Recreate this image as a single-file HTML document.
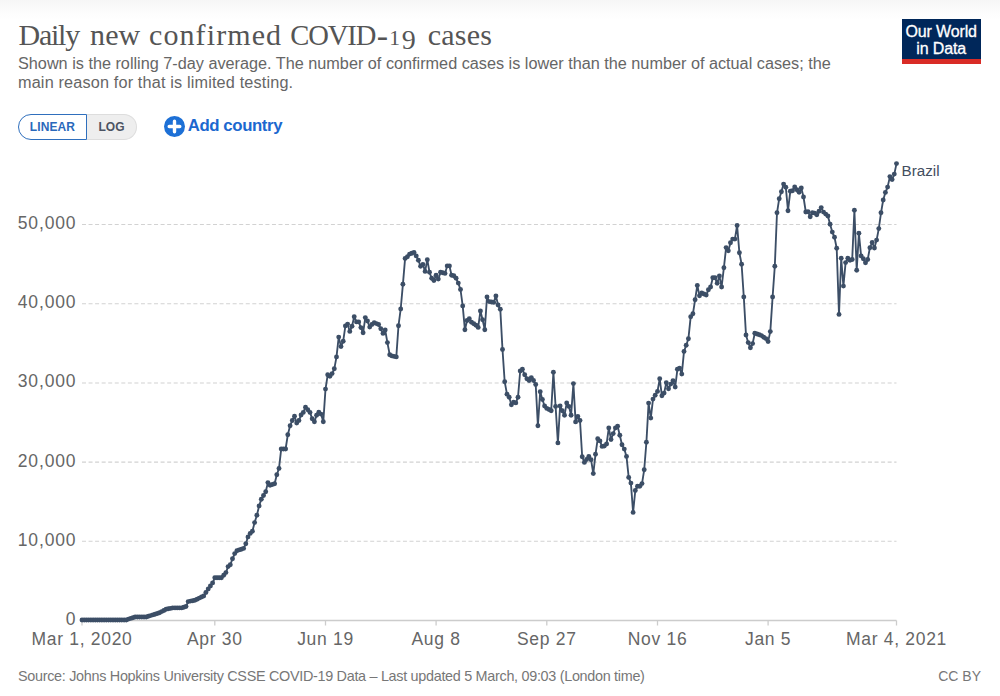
<!DOCTYPE html>
<html lang="en">
<head>
<meta charset="utf-8">
<title>Daily new confirmed COVID-19 cases</title>
<style>
html,body{margin:0;padding:0;background:#fff;}
body{width:1000px;height:696px;position:relative;overflow:hidden;font-family:"Liberation Sans",sans-serif;color:#555;}
.topshade{position:absolute;left:0;top:0;width:1000px;height:20px;background:linear-gradient(#f6f6f6,#fcfcfc 55%,#fff);}
h1{position:absolute;left:0;top:15px;width:600px;height:40px;margin:0;font-family:"Liberation Serif",serif;font-weight:400;font-size:30px;line-height:40px;color:#555;white-space:nowrap;letter-spacing:0.18px;}
.sub{position:absolute;left:18px;top:53.5px;margin:0;font-size:16.24px;line-height:19.2px;color:#666;white-space:nowrap;}
.logo{position:absolute;left:901.6px;top:19px;width:79.2px;height:39.8px;background:#00275a;border-bottom:5px solid #d92b26;color:#fff;text-align:center;font-size:16px;line-height:17.4px;letter-spacing:-0.15px;-webkit-text-stroke:0.3px #fff;}
.logo span{display:block;position:absolute;left:0;width:100%;line-height:18px;}
.logo .l1{top:4.3px;} .logo .l2{top:20.9px;}
.toggle{position:absolute;left:18px;top:114px;height:26px;box-sizing:border-box;display:flex;font-size:12px;font-weight:700;}
.toggle div{box-sizing:border-box;height:26px;line-height:24px;}
.lin{width:69px;border:1.8px solid #2f6fbd;border-radius:13px 0 0 13px;color:#2a69bb;background:#fff;text-align:center;padding-left:0px;letter-spacing:0.1px;}
.log{width:50px;border:1px solid #ddd;border-left:none;border-radius:0 13px 13px 0;color:#4b5362;background:#eee;text-align:center;padding-right:0px;}
.add{position:absolute;left:164px;top:115.2px;height:22px;display:flex;align-items:center;color:#1c68cf;font-weight:700;font-size:16.8px;letter-spacing:-0.4px;white-space:nowrap;}
.add svg{margin-right:2.7px;}
.src{position:absolute;left:18px;top:667px;font-size:14.4px;line-height:18px;color:#777;white-space:nowrap;letter-spacing:-0.3px;}
.cc{position:absolute;right:19px;top:667px;font-size:14px;line-height:18px;color:#777;white-space:nowrap;}
h1 span{position:absolute;top:0;line-height:40px;}
svg.chart{position:absolute;left:0;top:0;}
svg.chart text{font-family:"Liberation Sans",sans-serif;}
</style>
</head>
<body>
<div class="topshade"></div>
<h1><span style="left:18.5px;letter-spacing:-1.25px">Daily</span> <span style="left:90px;letter-spacing:0.15px">new</span> <span style="left:149px;letter-spacing:1.1px">confirmed</span> <span style="left:290.3px;top:0.5px;font-size:28.6px;letter-spacing:-1.1px">COVID</span><span style="left:376.8px;top:1.2px;font-size:34px;letter-spacing:0">-</span><span style="left:389.2px;top:2.7px;font-size:21.5px;">1</span><span style="left:401.7px;top:5.2px;font-size:28px;">9</span> <span style="left:427.8px;letter-spacing:0.18px">cases</span></h1>
<p class="sub">Shown is the rolling 7-day average. The number of confirmed cases is lower than the number of actual cases; the<br><span style="letter-spacing:0.16px">main reason for that is limited testing.</span></p>
<div class="logo"><span class="l1">Our World</span><span class="l2">in Data</span></div>
<div class="toggle"><div class="lin">LINEAR</div><div class="log">LOG</div></div>
<div class="add"><svg width="21" height="21" viewBox="0 0 21 21"><circle cx="10.5" cy="10.5" r="10.5" fill="#1d70d6"/><path d="M10.5 5.2v10.6M5.2 10.5h10.6" stroke="#fff" stroke-width="3.4" stroke-linecap="round"/></svg>Add country</div>
<svg class="chart" width="1000" height="696" viewBox="0 0 1000 696">
<g stroke="#d2d2d2" stroke-width="1.05" stroke-dasharray="4,2.55"><line x1="82" x2="896.5" y1="541.3" y2="541.3"/><line x1="82" x2="896.5" y1="462.1" y2="462.1"/><line x1="82" x2="896.5" y1="382.9" y2="382.9"/><line x1="82" x2="896.5" y1="303.7" y2="303.7"/><line x1="82" x2="896.5" y1="224.4" y2="224.4"/></g>
<line x1="82" x2="896.5" y1="620.5" y2="620.5" stroke="#ccc" stroke-width="1.3"/>
<g stroke="#ccc" stroke-width="1.3"><line x1="82.0" x2="82.0" y1="620.5" y2="625.5"/><line x1="214.8" x2="214.8" y1="620.5" y2="625.5"/><line x1="325.5" x2="325.5" y1="620.5" y2="625.5"/><line x1="436.1" x2="436.1" y1="620.5" y2="625.5"/><line x1="546.8" x2="546.8" y1="620.5" y2="625.5"/><line x1="657.5" x2="657.5" y1="620.5" y2="625.5"/><line x1="768.1" x2="768.1" y1="620.5" y2="625.5"/><line x1="896.5" x2="896.5" y1="620.5" y2="625.5"/></g>
<g font-size="17.5px" fill="#666" letter-spacing="0.85"><text x="76.4" y="625.0" text-anchor="end">0</text><text x="76.4" y="545.8" text-anchor="end">10,000</text><text x="76.4" y="466.6" text-anchor="end">20,000</text><text x="76.4" y="387.3" text-anchor="end">30,000</text><text x="76.4" y="308.1" text-anchor="end">40,000</text><text x="76.4" y="228.9" text-anchor="end">50,000</text></g>
<g font-size="17.5px" fill="#666" letter-spacing="0.7"><text x="82.0" y="645.3" text-anchor="middle">Mar 1, 2020</text><text x="214.8" y="645.3" text-anchor="middle">Apr 30</text><text x="325.5" y="645.3" text-anchor="middle">Jun 19</text><text x="436.1" y="645.3" text-anchor="middle">Aug 8</text><text x="546.8" y="645.3" text-anchor="middle">Sep 27</text><text x="657.5" y="645.3" text-anchor="middle">Nov 16</text><text x="768.1" y="645.3" text-anchor="middle">Jan 5</text><text x="896.5" y="645.3" text-anchor="middle">Mar 4, 2021</text></g>
<polyline fill="none" stroke="#3c4e66" stroke-width="1.85" stroke-linejoin="round" points="82.0,620.0 84.2,620.0 86.4,620.0 88.6,620.0 90.9,620.0 93.1,620.0 95.3,620.0 97.5,620.0 99.7,620.0 101.9,620.0 104.1,620.0 106.3,620.0 108.6,620.0 110.8,620.0 113.0,620.0 115.2,620.0 117.4,620.0 119.6,620.0 121.8,620.0 124.1,620.0 126.3,620.0 128.5,619.1 130.7,618.4 132.9,617.7 135.1,617.0 137.3,617.0 139.5,617.0 141.8,617.0 144.0,617.0 146.2,617.0 148.4,616.3 150.6,615.6 152.8,614.9 155.0,614.2 157.3,613.5 159.5,612.8 161.7,611.6 163.9,610.5 166.1,609.3 168.3,608.8 170.5,608.4 172.7,607.9 175.0,607.9 177.2,607.9 179.4,607.9 181.6,607.9 183.8,607.2 186.0,606.5 188.2,601.6 190.5,601.1 192.7,600.7 194.9,600.2 197.1,599.2 199.3,598.1 201.5,597.0 203.7,596.0 205.9,592.5 208.2,589.0 210.4,586.0 212.6,582.9 214.8,577.8 217.0,577.8 219.2,577.8 221.4,577.8 223.7,575.2 225.9,572.6 228.1,566.6 230.3,564.8 232.5,558.8 234.7,553.6 236.9,550.7 239.1,549.9 241.4,549.2 243.6,548.4 245.8,543.8 248.0,536.9 250.2,533.4 252.4,531.2 254.6,522.6 256.9,515.2 259.1,505.9 261.3,499.3 263.5,495.5 265.7,491.7 267.9,482.6 270.1,485.2 272.3,484.5 274.6,483.8 276.8,474.8 279.0,468.4 281.2,449.0 283.4,449.0 285.6,449.0 287.8,434.8 290.1,425.7 292.3,420.5 294.5,416.2 296.7,423.1 298.9,420.5 301.1,415.0 303.3,412.4 305.5,407.2 307.8,409.8 310.0,412.4 312.2,418.8 314.4,421.7 316.6,415.3 318.8,412.2 321.0,414.1 323.3,421.7 325.5,389.1 327.7,374.8 329.9,376.2 332.1,373.6 334.3,368.8 336.5,356.9 338.7,337.1 341.0,346.6 343.2,341.2 345.4,325.9 347.6,324.1 349.8,331.4 352.0,326.2 354.2,316.7 356.5,321.9 358.7,321.9 360.9,327.6 363.1,332.8 365.3,317.6 367.5,321.0 369.7,327.1 371.9,324.5 374.2,322.8 376.4,323.6 378.6,324.5 380.8,328.8 383.0,333.4 385.2,330.0 387.4,342.6 389.7,354.7 391.9,355.9 394.1,356.4 396.3,356.9 398.5,325.7 400.7,309.0 402.9,284.3 405.1,258.4 407.4,256.7 409.6,254.1 411.8,253.2 414.0,252.4 416.2,255.9 418.4,260.2 420.6,266.2 422.9,264.5 425.1,271.4 427.3,259.7 429.5,272.2 431.7,278.3 433.9,280.5 436.1,275.2 438.3,279.1 440.6,272.2 442.8,272.8 445.0,273.4 447.2,265.9 449.4,265.9 451.6,275.2 453.8,275.7 456.1,278.3 458.3,283.1 460.5,289.5 462.7,305.9 464.9,329.7 467.1,320.5 469.3,318.8 471.5,322.2 473.8,323.7 476.0,325.2 478.2,327.4 480.4,311.0 482.6,319.7 484.8,329.7 487.0,296.9 489.2,301.6 491.5,302.0 493.7,302.4 495.9,295.9 498.1,305.0 500.3,309.3 502.5,349.5 504.7,381.7 507.0,394.3 509.2,397.2 511.4,404.7 513.6,402.1 515.8,402.9 518.0,397.2 520.2,371.0 522.4,369.3 524.7,374.8 526.9,378.8 529.1,380.5 531.3,377.6 533.5,380.5 535.7,384.5 537.9,425.7 540.2,391.7 542.4,399.5 544.6,406.0 546.8,408.4 549.0,409.5 551.2,410.7 553.4,372.2 555.6,406.4 557.9,442.9 560.1,406.0 562.3,410.7 564.5,415.3 566.7,402.9 568.9,406.4 571.1,415.3 573.4,383.6 575.6,421.9 577.8,416.4 580.0,420.5 582.2,456.7 584.4,462.4 586.6,459.5 588.8,456.4 591.1,459.8 593.3,473.6 595.5,454.3 597.7,438.8 599.9,440.9 602.1,446.4 604.3,446.0 606.6,444.0 608.8,427.9 611.0,439.5 613.2,433.6 615.4,427.9 617.6,426.2 619.8,435.3 622.0,444.7 624.3,449.1 626.5,456.4 628.7,477.4 630.9,483.1 633.1,512.4 635.3,490.5 637.5,486.2 639.8,486.2 642.0,483.6 644.2,469.8 646.4,442.2 648.6,403.1 650.8,418.1 653.0,399.1 655.2,395.2 657.5,391.4 659.7,378.8 661.9,395.7 664.1,393.1 666.3,382.8 668.5,388.8 670.7,384.1 673.0,380.7 675.2,387.1 677.4,369.3 679.6,368.1 681.8,374.1 684.0,351.4 686.2,345.2 688.4,338.8 690.7,316.7 692.9,313.8 695.1,299.8 697.3,285.4 699.5,295.8 701.7,293.0 703.9,294.0 706.2,295.0 708.4,289.8 710.6,287.0 712.8,277.7 715.0,277.7 717.2,283.3 719.4,275.9 721.6,287.0 723.9,267.7 726.1,247.6 728.3,250.8 730.5,242.7 732.7,239.1 734.9,239.1 737.1,225.5 739.4,252.8 741.6,264.2 743.8,297.0 746.0,335.0 748.2,342.6 750.4,347.7 752.6,343.6 754.8,333.2 757.1,334.0 759.3,334.8 761.5,335.6 763.7,337.2 765.9,338.6 768.1,341.6 770.3,331.6 772.6,297.0 774.8,266.3 777.0,212.8 779.2,198.7 781.4,191.8 783.6,184.1 785.8,187.2 788.0,210.7 790.3,191.3 792.5,190.8 794.7,187.0 796.9,189.7 799.1,192.3 801.3,188.0 803.5,197.0 805.8,212.0 808.0,211.7 810.2,216.7 812.4,212.8 814.6,213.1 816.8,214.8 819.0,211.2 821.2,207.6 823.5,212.1 825.7,214.1 827.9,216.0 830.1,224.3 832.3,232.1 834.5,237.2 836.7,248.3 839.0,314.4 841.2,258.3 843.4,286.1 845.6,262.6 847.8,258.3 850.0,260.2 852.2,259.5 854.4,210.2 856.7,270.3 858.9,233.3 861.1,255.9 863.3,258.8 865.5,262.8 867.7,259.5 869.9,247.7 872.2,242.5 874.4,248.0 876.6,240.1 878.8,228.6 881.0,212.8 883.2,200.0 885.4,192.4 887.6,187.1 889.9,176.6 892.1,179.5 894.3,174.1 896.5,163.6"/>
<g fill="#3c4e66"><circle cx="82.0" cy="620.0" r="2.45"/><circle cx="84.2" cy="620.0" r="2.45"/><circle cx="86.4" cy="620.0" r="2.45"/><circle cx="88.6" cy="620.0" r="2.45"/><circle cx="90.9" cy="620.0" r="2.45"/><circle cx="93.1" cy="620.0" r="2.45"/><circle cx="95.3" cy="620.0" r="2.45"/><circle cx="97.5" cy="620.0" r="2.45"/><circle cx="99.7" cy="620.0" r="2.45"/><circle cx="101.9" cy="620.0" r="2.45"/><circle cx="104.1" cy="620.0" r="2.45"/><circle cx="106.3" cy="620.0" r="2.45"/><circle cx="108.6" cy="620.0" r="2.45"/><circle cx="110.8" cy="620.0" r="2.45"/><circle cx="113.0" cy="620.0" r="2.45"/><circle cx="115.2" cy="620.0" r="2.45"/><circle cx="117.4" cy="620.0" r="2.45"/><circle cx="119.6" cy="620.0" r="2.45"/><circle cx="121.8" cy="620.0" r="2.45"/><circle cx="124.1" cy="620.0" r="2.45"/><circle cx="126.3" cy="620.0" r="2.45"/><circle cx="128.5" cy="619.1" r="2.45"/><circle cx="130.7" cy="618.4" r="2.45"/><circle cx="132.9" cy="617.7" r="2.45"/><circle cx="135.1" cy="617.0" r="2.45"/><circle cx="137.3" cy="617.0" r="2.45"/><circle cx="139.5" cy="617.0" r="2.45"/><circle cx="141.8" cy="617.0" r="2.45"/><circle cx="144.0" cy="617.0" r="2.45"/><circle cx="146.2" cy="617.0" r="2.45"/><circle cx="148.4" cy="616.3" r="2.45"/><circle cx="150.6" cy="615.6" r="2.45"/><circle cx="152.8" cy="614.9" r="2.45"/><circle cx="155.0" cy="614.2" r="2.45"/><circle cx="157.3" cy="613.5" r="2.45"/><circle cx="159.5" cy="612.8" r="2.45"/><circle cx="161.7" cy="611.6" r="2.45"/><circle cx="163.9" cy="610.5" r="2.45"/><circle cx="166.1" cy="609.3" r="2.45"/><circle cx="168.3" cy="608.8" r="2.45"/><circle cx="170.5" cy="608.4" r="2.45"/><circle cx="172.7" cy="607.9" r="2.45"/><circle cx="175.0" cy="607.9" r="2.45"/><circle cx="177.2" cy="607.9" r="2.45"/><circle cx="179.4" cy="607.9" r="2.45"/><circle cx="181.6" cy="607.9" r="2.45"/><circle cx="183.8" cy="607.2" r="2.45"/><circle cx="186.0" cy="606.5" r="2.45"/><circle cx="188.2" cy="601.6" r="2.45"/><circle cx="190.5" cy="601.1" r="2.45"/><circle cx="192.7" cy="600.7" r="2.45"/><circle cx="194.9" cy="600.2" r="2.45"/><circle cx="197.1" cy="599.2" r="2.45"/><circle cx="199.3" cy="598.1" r="2.45"/><circle cx="201.5" cy="597.0" r="2.45"/><circle cx="203.7" cy="596.0" r="2.45"/><circle cx="205.9" cy="592.5" r="2.45"/><circle cx="208.2" cy="589.0" r="2.45"/><circle cx="210.4" cy="586.0" r="2.45"/><circle cx="212.6" cy="582.9" r="2.45"/><circle cx="214.8" cy="577.8" r="2.45"/><circle cx="217.0" cy="577.8" r="2.45"/><circle cx="219.2" cy="577.8" r="2.45"/><circle cx="221.4" cy="577.8" r="2.45"/><circle cx="223.7" cy="575.2" r="2.45"/><circle cx="225.9" cy="572.6" r="2.45"/><circle cx="228.1" cy="566.6" r="2.45"/><circle cx="230.3" cy="564.8" r="2.45"/><circle cx="232.5" cy="558.8" r="2.45"/><circle cx="234.7" cy="553.6" r="2.45"/><circle cx="236.9" cy="550.7" r="2.45"/><circle cx="239.1" cy="549.9" r="2.45"/><circle cx="241.4" cy="549.2" r="2.45"/><circle cx="243.6" cy="548.4" r="2.45"/><circle cx="245.8" cy="543.8" r="2.45"/><circle cx="248.0" cy="536.9" r="2.45"/><circle cx="250.2" cy="533.4" r="2.45"/><circle cx="252.4" cy="531.2" r="2.45"/><circle cx="254.6" cy="522.6" r="2.45"/><circle cx="256.9" cy="515.2" r="2.45"/><circle cx="259.1" cy="505.9" r="2.45"/><circle cx="261.3" cy="499.3" r="2.45"/><circle cx="263.5" cy="495.5" r="2.45"/><circle cx="265.7" cy="491.7" r="2.45"/><circle cx="267.9" cy="482.6" r="2.45"/><circle cx="270.1" cy="485.2" r="2.45"/><circle cx="272.3" cy="484.5" r="2.45"/><circle cx="274.6" cy="483.8" r="2.45"/><circle cx="276.8" cy="474.8" r="2.45"/><circle cx="279.0" cy="468.4" r="2.45"/><circle cx="281.2" cy="449.0" r="2.45"/><circle cx="283.4" cy="449.0" r="2.45"/><circle cx="285.6" cy="449.0" r="2.45"/><circle cx="287.8" cy="434.8" r="2.45"/><circle cx="290.1" cy="425.7" r="2.45"/><circle cx="292.3" cy="420.5" r="2.45"/><circle cx="294.5" cy="416.2" r="2.45"/><circle cx="296.7" cy="423.1" r="2.45"/><circle cx="298.9" cy="420.5" r="2.45"/><circle cx="301.1" cy="415.0" r="2.45"/><circle cx="303.3" cy="412.4" r="2.45"/><circle cx="305.5" cy="407.2" r="2.45"/><circle cx="307.8" cy="409.8" r="2.45"/><circle cx="310.0" cy="412.4" r="2.45"/><circle cx="312.2" cy="418.8" r="2.45"/><circle cx="314.4" cy="421.7" r="2.45"/><circle cx="316.6" cy="415.3" r="2.45"/><circle cx="318.8" cy="412.2" r="2.45"/><circle cx="321.0" cy="414.1" r="2.45"/><circle cx="323.3" cy="421.7" r="2.45"/><circle cx="325.5" cy="389.1" r="2.45"/><circle cx="327.7" cy="374.8" r="2.45"/><circle cx="329.9" cy="376.2" r="2.45"/><circle cx="332.1" cy="373.6" r="2.45"/><circle cx="334.3" cy="368.8" r="2.45"/><circle cx="336.5" cy="356.9" r="2.45"/><circle cx="338.7" cy="337.1" r="2.45"/><circle cx="341.0" cy="346.6" r="2.45"/><circle cx="343.2" cy="341.2" r="2.45"/><circle cx="345.4" cy="325.9" r="2.45"/><circle cx="347.6" cy="324.1" r="2.45"/><circle cx="349.8" cy="331.4" r="2.45"/><circle cx="352.0" cy="326.2" r="2.45"/><circle cx="354.2" cy="316.7" r="2.45"/><circle cx="356.5" cy="321.9" r="2.45"/><circle cx="358.7" cy="321.9" r="2.45"/><circle cx="360.9" cy="327.6" r="2.45"/><circle cx="363.1" cy="332.8" r="2.45"/><circle cx="365.3" cy="317.6" r="2.45"/><circle cx="367.5" cy="321.0" r="2.45"/><circle cx="369.7" cy="327.1" r="2.45"/><circle cx="371.9" cy="324.5" r="2.45"/><circle cx="374.2" cy="322.8" r="2.45"/><circle cx="376.4" cy="323.6" r="2.45"/><circle cx="378.6" cy="324.5" r="2.45"/><circle cx="380.8" cy="328.8" r="2.45"/><circle cx="383.0" cy="333.4" r="2.45"/><circle cx="385.2" cy="330.0" r="2.45"/><circle cx="387.4" cy="342.6" r="2.45"/><circle cx="389.7" cy="354.7" r="2.45"/><circle cx="391.9" cy="355.9" r="2.45"/><circle cx="394.1" cy="356.4" r="2.45"/><circle cx="396.3" cy="356.9" r="2.45"/><circle cx="398.5" cy="325.7" r="2.45"/><circle cx="400.7" cy="309.0" r="2.45"/><circle cx="402.9" cy="284.3" r="2.45"/><circle cx="405.1" cy="258.4" r="2.45"/><circle cx="407.4" cy="256.7" r="2.45"/><circle cx="409.6" cy="254.1" r="2.45"/><circle cx="411.8" cy="253.2" r="2.45"/><circle cx="414.0" cy="252.4" r="2.45"/><circle cx="416.2" cy="255.9" r="2.45"/><circle cx="418.4" cy="260.2" r="2.45"/><circle cx="420.6" cy="266.2" r="2.45"/><circle cx="422.9" cy="264.5" r="2.45"/><circle cx="425.1" cy="271.4" r="2.45"/><circle cx="427.3" cy="259.7" r="2.45"/><circle cx="429.5" cy="272.2" r="2.45"/><circle cx="431.7" cy="278.3" r="2.45"/><circle cx="433.9" cy="280.5" r="2.45"/><circle cx="436.1" cy="275.2" r="2.45"/><circle cx="438.3" cy="279.1" r="2.45"/><circle cx="440.6" cy="272.2" r="2.45"/><circle cx="442.8" cy="272.8" r="2.45"/><circle cx="445.0" cy="273.4" r="2.45"/><circle cx="447.2" cy="265.9" r="2.45"/><circle cx="449.4" cy="265.9" r="2.45"/><circle cx="451.6" cy="275.2" r="2.45"/><circle cx="453.8" cy="275.7" r="2.45"/><circle cx="456.1" cy="278.3" r="2.45"/><circle cx="458.3" cy="283.1" r="2.45"/><circle cx="460.5" cy="289.5" r="2.45"/><circle cx="462.7" cy="305.9" r="2.45"/><circle cx="464.9" cy="329.7" r="2.45"/><circle cx="467.1" cy="320.5" r="2.45"/><circle cx="469.3" cy="318.8" r="2.45"/><circle cx="471.5" cy="322.2" r="2.45"/><circle cx="473.8" cy="323.7" r="2.45"/><circle cx="476.0" cy="325.2" r="2.45"/><circle cx="478.2" cy="327.4" r="2.45"/><circle cx="480.4" cy="311.0" r="2.45"/><circle cx="482.6" cy="319.7" r="2.45"/><circle cx="484.8" cy="329.7" r="2.45"/><circle cx="487.0" cy="296.9" r="2.45"/><circle cx="489.2" cy="301.6" r="2.45"/><circle cx="491.5" cy="302.0" r="2.45"/><circle cx="493.7" cy="302.4" r="2.45"/><circle cx="495.9" cy="295.9" r="2.45"/><circle cx="498.1" cy="305.0" r="2.45"/><circle cx="500.3" cy="309.3" r="2.45"/><circle cx="502.5" cy="349.5" r="2.45"/><circle cx="504.7" cy="381.7" r="2.45"/><circle cx="507.0" cy="394.3" r="2.45"/><circle cx="509.2" cy="397.2" r="2.45"/><circle cx="511.4" cy="404.7" r="2.45"/><circle cx="513.6" cy="402.1" r="2.45"/><circle cx="515.8" cy="402.9" r="2.45"/><circle cx="518.0" cy="397.2" r="2.45"/><circle cx="520.2" cy="371.0" r="2.45"/><circle cx="522.4" cy="369.3" r="2.45"/><circle cx="524.7" cy="374.8" r="2.45"/><circle cx="526.9" cy="378.8" r="2.45"/><circle cx="529.1" cy="380.5" r="2.45"/><circle cx="531.3" cy="377.6" r="2.45"/><circle cx="533.5" cy="380.5" r="2.45"/><circle cx="535.7" cy="384.5" r="2.45"/><circle cx="537.9" cy="425.7" r="2.45"/><circle cx="540.2" cy="391.7" r="2.45"/><circle cx="542.4" cy="399.5" r="2.45"/><circle cx="544.6" cy="406.0" r="2.45"/><circle cx="546.8" cy="408.4" r="2.45"/><circle cx="549.0" cy="409.5" r="2.45"/><circle cx="551.2" cy="410.7" r="2.45"/><circle cx="553.4" cy="372.2" r="2.45"/><circle cx="555.6" cy="406.4" r="2.45"/><circle cx="557.9" cy="442.9" r="2.45"/><circle cx="560.1" cy="406.0" r="2.45"/><circle cx="562.3" cy="410.7" r="2.45"/><circle cx="564.5" cy="415.3" r="2.45"/><circle cx="566.7" cy="402.9" r="2.45"/><circle cx="568.9" cy="406.4" r="2.45"/><circle cx="571.1" cy="415.3" r="2.45"/><circle cx="573.4" cy="383.6" r="2.45"/><circle cx="575.6" cy="421.9" r="2.45"/><circle cx="577.8" cy="416.4" r="2.45"/><circle cx="580.0" cy="420.5" r="2.45"/><circle cx="582.2" cy="456.7" r="2.45"/><circle cx="584.4" cy="462.4" r="2.45"/><circle cx="586.6" cy="459.5" r="2.45"/><circle cx="588.8" cy="456.4" r="2.45"/><circle cx="591.1" cy="459.8" r="2.45"/><circle cx="593.3" cy="473.6" r="2.45"/><circle cx="595.5" cy="454.3" r="2.45"/><circle cx="597.7" cy="438.8" r="2.45"/><circle cx="599.9" cy="440.9" r="2.45"/><circle cx="602.1" cy="446.4" r="2.45"/><circle cx="604.3" cy="446.0" r="2.45"/><circle cx="606.6" cy="444.0" r="2.45"/><circle cx="608.8" cy="427.9" r="2.45"/><circle cx="611.0" cy="439.5" r="2.45"/><circle cx="613.2" cy="433.6" r="2.45"/><circle cx="615.4" cy="427.9" r="2.45"/><circle cx="617.6" cy="426.2" r="2.45"/><circle cx="619.8" cy="435.3" r="2.45"/><circle cx="622.0" cy="444.7" r="2.45"/><circle cx="624.3" cy="449.1" r="2.45"/><circle cx="626.5" cy="456.4" r="2.45"/><circle cx="628.7" cy="477.4" r="2.45"/><circle cx="630.9" cy="483.1" r="2.45"/><circle cx="633.1" cy="512.4" r="2.45"/><circle cx="635.3" cy="490.5" r="2.45"/><circle cx="637.5" cy="486.2" r="2.45"/><circle cx="639.8" cy="486.2" r="2.45"/><circle cx="642.0" cy="483.6" r="2.45"/><circle cx="644.2" cy="469.8" r="2.45"/><circle cx="646.4" cy="442.2" r="2.45"/><circle cx="648.6" cy="403.1" r="2.45"/><circle cx="650.8" cy="418.1" r="2.45"/><circle cx="653.0" cy="399.1" r="2.45"/><circle cx="655.2" cy="395.2" r="2.45"/><circle cx="657.5" cy="391.4" r="2.45"/><circle cx="659.7" cy="378.8" r="2.45"/><circle cx="661.9" cy="395.7" r="2.45"/><circle cx="664.1" cy="393.1" r="2.45"/><circle cx="666.3" cy="382.8" r="2.45"/><circle cx="668.5" cy="388.8" r="2.45"/><circle cx="670.7" cy="384.1" r="2.45"/><circle cx="673.0" cy="380.7" r="2.45"/><circle cx="675.2" cy="387.1" r="2.45"/><circle cx="677.4" cy="369.3" r="2.45"/><circle cx="679.6" cy="368.1" r="2.45"/><circle cx="681.8" cy="374.1" r="2.45"/><circle cx="684.0" cy="351.4" r="2.45"/><circle cx="686.2" cy="345.2" r="2.45"/><circle cx="688.4" cy="338.8" r="2.45"/><circle cx="690.7" cy="316.7" r="2.45"/><circle cx="692.9" cy="313.8" r="2.45"/><circle cx="695.1" cy="299.8" r="2.45"/><circle cx="697.3" cy="285.4" r="2.45"/><circle cx="699.5" cy="295.8" r="2.45"/><circle cx="701.7" cy="293.0" r="2.45"/><circle cx="703.9" cy="294.0" r="2.45"/><circle cx="706.2" cy="295.0" r="2.45"/><circle cx="708.4" cy="289.8" r="2.45"/><circle cx="710.6" cy="287.0" r="2.45"/><circle cx="712.8" cy="277.7" r="2.45"/><circle cx="715.0" cy="277.7" r="2.45"/><circle cx="717.2" cy="283.3" r="2.45"/><circle cx="719.4" cy="275.9" r="2.45"/><circle cx="721.6" cy="287.0" r="2.45"/><circle cx="723.9" cy="267.7" r="2.45"/><circle cx="726.1" cy="247.6" r="2.45"/><circle cx="728.3" cy="250.8" r="2.45"/><circle cx="730.5" cy="242.7" r="2.45"/><circle cx="732.7" cy="239.1" r="2.45"/><circle cx="734.9" cy="239.1" r="2.45"/><circle cx="737.1" cy="225.5" r="2.45"/><circle cx="739.4" cy="252.8" r="2.45"/><circle cx="741.6" cy="264.2" r="2.45"/><circle cx="743.8" cy="297.0" r="2.45"/><circle cx="746.0" cy="335.0" r="2.45"/><circle cx="748.2" cy="342.6" r="2.45"/><circle cx="750.4" cy="347.7" r="2.45"/><circle cx="752.6" cy="343.6" r="2.45"/><circle cx="754.8" cy="333.2" r="2.45"/><circle cx="757.1" cy="334.0" r="2.45"/><circle cx="759.3" cy="334.8" r="2.45"/><circle cx="761.5" cy="335.6" r="2.45"/><circle cx="763.7" cy="337.2" r="2.45"/><circle cx="765.9" cy="338.6" r="2.45"/><circle cx="768.1" cy="341.6" r="2.45"/><circle cx="770.3" cy="331.6" r="2.45"/><circle cx="772.6" cy="297.0" r="2.45"/><circle cx="774.8" cy="266.3" r="2.45"/><circle cx="777.0" cy="212.8" r="2.45"/><circle cx="779.2" cy="198.7" r="2.45"/><circle cx="781.4" cy="191.8" r="2.45"/><circle cx="783.6" cy="184.1" r="2.45"/><circle cx="785.8" cy="187.2" r="2.45"/><circle cx="788.0" cy="210.7" r="2.45"/><circle cx="790.3" cy="191.3" r="2.45"/><circle cx="792.5" cy="190.8" r="2.45"/><circle cx="794.7" cy="187.0" r="2.45"/><circle cx="796.9" cy="189.7" r="2.45"/><circle cx="799.1" cy="192.3" r="2.45"/><circle cx="801.3" cy="188.0" r="2.45"/><circle cx="803.5" cy="197.0" r="2.45"/><circle cx="805.8" cy="212.0" r="2.45"/><circle cx="808.0" cy="211.7" r="2.45"/><circle cx="810.2" cy="216.7" r="2.45"/><circle cx="812.4" cy="212.8" r="2.45"/><circle cx="814.6" cy="213.1" r="2.45"/><circle cx="816.8" cy="214.8" r="2.45"/><circle cx="819.0" cy="211.2" r="2.45"/><circle cx="821.2" cy="207.6" r="2.45"/><circle cx="823.5" cy="212.1" r="2.45"/><circle cx="825.7" cy="214.1" r="2.45"/><circle cx="827.9" cy="216.0" r="2.45"/><circle cx="830.1" cy="224.3" r="2.45"/><circle cx="832.3" cy="232.1" r="2.45"/><circle cx="834.5" cy="237.2" r="2.45"/><circle cx="836.7" cy="248.3" r="2.45"/><circle cx="839.0" cy="314.4" r="2.45"/><circle cx="841.2" cy="258.3" r="2.45"/><circle cx="843.4" cy="286.1" r="2.45"/><circle cx="845.6" cy="262.6" r="2.45"/><circle cx="847.8" cy="258.3" r="2.45"/><circle cx="850.0" cy="260.2" r="2.45"/><circle cx="852.2" cy="259.5" r="2.45"/><circle cx="854.4" cy="210.2" r="2.45"/><circle cx="856.7" cy="270.3" r="2.45"/><circle cx="858.9" cy="233.3" r="2.45"/><circle cx="861.1" cy="255.9" r="2.45"/><circle cx="863.3" cy="258.8" r="2.45"/><circle cx="865.5" cy="262.8" r="2.45"/><circle cx="867.7" cy="259.5" r="2.45"/><circle cx="869.9" cy="247.7" r="2.45"/><circle cx="872.2" cy="242.5" r="2.45"/><circle cx="874.4" cy="248.0" r="2.45"/><circle cx="876.6" cy="240.1" r="2.45"/><circle cx="878.8" cy="228.6" r="2.45"/><circle cx="881.0" cy="212.8" r="2.45"/><circle cx="883.2" cy="200.0" r="2.45"/><circle cx="885.4" cy="192.4" r="2.45"/><circle cx="887.6" cy="187.1" r="2.45"/><circle cx="889.9" cy="176.6" r="2.45"/><circle cx="892.1" cy="179.5" r="2.45"/><circle cx="894.3" cy="174.1" r="2.45"/><circle cx="896.5" cy="163.6" r="2.45"/></g>
<text x="901.6" y="176" font-size="15.2px" fill="#434e60">Brazil</text>
</svg>
<div class="src">Source: Johns Hopkins University CSSE COVID-19 Data – Last updated 5 March, 09:03 (London time)</div>
<div class="cc">CC BY</div>
</body>
</html>
